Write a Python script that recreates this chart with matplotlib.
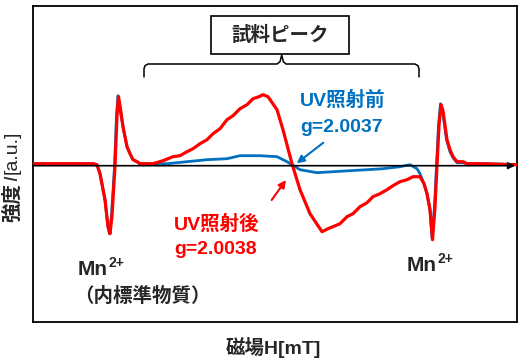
import matplotlib
matplotlib.use("Agg")
import matplotlib.pyplot as plt
from matplotlib.patches import Rectangle

plt.rcParams['font.family'] = ['Liberation Sans', 'Noto Sans CJK JP', 'DejaVu Sans']
CJK = ['Liberation Sans', 'Noto Sans CJK JP', 'DejaVu Sans']

# ---- data (field in arbitrary units, intensity in a.u.) ----
field_red = [0, 60, 64, 67, 72, 75, 77, 79, 82, 84, 85.5, 87, 90, 94, 97, 100, 104, 107, 120,
             130, 140, 147, 154, 160, 167, 174, 180, 187, 194, 200, 207, 214, 220, 226, 230, 235,
             244, 250, 259, 267, 277, 289,
             295, 300, 307, 314, 320, 327, 334, 340, 347, 354, 360, 367, 374, 380, 387, 391,
             394, 397, 399.5, 402, 404, 406,
             408, 410, 414, 417, 420, 424, 430, 434, 450, 484]
int_red = [2, 2, 1, -8, -34, -61, -68, -50, -1, 50, 69, 60, 39, 19, 12, 6, 4, 2, 2,
           5, 9, 10, 14, 17, 22, 26, 32, 37, 46, 50, 57, 61, 67, 69, 71, 69,
           56, 36, 2, -24, -48, -66,
           -63, -61, -58, -51, -48, -41, -37, -31, -28, -24, -20, -16, -14, -11, -11, -18,
           -28, -44, -74, -41, 0, 40,
           61, 55, 26, 16, 9, 4, 4, 2, 2, 1]

field_blue = [0, 60, 64, 67, 72, 75, 76.5, 78.5, 81.5, 83.5, 85, 86.5, 90, 94, 97, 100, 104, 107,
              134, 154, 174, 194, 207, 227, 244, 254, 259, 267, 284, 300, 317, 334,
              350, 367, 377, 384, 387, 391, 394, 397, 399, 401.5, 403.5, 405.5,
              407.5, 409.5, 413.5, 417, 420, 424, 430, 434, 450, 484]
int_blue = [2, 2, 1, -8, -34, -61, -68, -50, -1, 50, 70, 60, 39, 19, 12, 6, 4, 2,
            2, 4, 6, 7, 10, 10, 9, 4, 1, -4, -7, -6, -5, -4,
            -3, -1, 1, -3, -8, -18, -28, -44, -72, -41, 0, 40,
            62, 55, 26, 14, 8, 3, 3, 2, 2, 1]

blue_label = ["UV照射前", "g=2.0037"]
red_label = ["UV照射後", "g=2.0038"]
peak_label = "試料ピーク"
mn_label = ("Mn", "2+")
mn_note = "（内標準物質）"
xlabel = "磁場H[mT]"
ylabel_parts = ["強度", "I", "[a.u.]"]

RED = "#FF0000"
BLUE = "#0070C0"
DARK = "#262626"

fig = plt.figure(figsize=(5.23, 3.58), dpi=100)
ax = fig.add_axes([33 / 523, 36 / 358, 484 / 523, 316 / 358])
ax.set_xlim(0, 484)
ax.set_ylim(-156.3, 159.7)
ax.set_xticks([])
ax.set_yticks([])
for s in ax.spines.values():
    s.set_linewidth(1.3)
    s.set_color("black")

ax.plot(field_blue, int_blue, color=BLUE, lw=2.0, zorder=3, solid_joinstyle='round')
ax.plot(field_red, int_red, color=RED, lw=2.3, zorder=4, solid_joinstyle='round')

# zero axis arrow
ax.annotate("", xy=(482, 0), xytext=(0, 0),
            arrowprops=dict(arrowstyle='-|>', color='black', lw=1.2, mutation_scale=10,
                            shrinkA=0, shrinkB=0), zorder=6)

# bracket
bx = [111, 111, 112, 115, 244, 247, 248.7, 250.4, 253, 382, 385, 386, 386]
by = [89, 97, 100, 101.7, 101.7, 104, 110.7, 104, 101.7, 101.7, 100, 97, 89]
ax.plot(bx, by, color="black", lw=1.1, zorder=5)

# peak box
ax.add_patch(Rectangle((178, 111.7), 138, 38, fc="white", ec="black", lw=1.2, zorder=5))
ax.text(247, 130.5, peak_label, ha="center", va="center", fontsize=14,
        fontweight="bold", color=DARK, zorder=6, family=CJK)

# labels for spectra
ax.text(267, 65.5, blue_label[0], ha="left", va="center", fontsize=14,
        fontweight="bold", color=BLUE, family=CJK)
ax.text(267, 38.5, blue_label[1], ha="left", va="center", fontsize=14,
        fontweight="bold", color=BLUE, family=CJK)
ax.text(141, -58.5, red_label[0], ha="left", va="center", fontsize=14,
        fontweight="bold", color=RED, family=CJK)
ax.text(141, -84, red_label[1], ha="left", va="center", fontsize=14,
        fontweight="bold", color=RED, family=CJK)

ax.annotate("", xy=(263.7, 2.4), xytext=(290.3, 23),
            arrowprops=dict(arrowstyle='-|>', color=BLUE, lw=1.5, mutation_scale=11,
                            shrinkA=0, shrinkB=0), zorder=7)
ax.annotate("", xy=(253, -14.3), xytext=(238.7, -34.3),
            arrowprops=dict(arrowstyle='-|>', color=RED, lw=1.5, mutation_scale=11,
                            shrinkA=0, shrinkB=0), zorder=7)

fig.canvas.draw()
renderer = fig.canvas.get_renderer()


def mn_text(x, y):
    t = ax.text(x, y, mn_label[0], ha="left", va="center", fontsize=15,
                fontweight="bold", color=DARK, family=CJK)
    w = t.get_window_extent(renderer).width * 72 / fig.dpi
    ax.annotate(mn_label[1], xy=(x, y), xytext=(w + 0.1, 4.5), textcoords="offset points",
                ha="left", va="center", fontsize=10, fontweight="bold", color=DARK,
                family=CJK)


mn_text(45, -104)
mn_text(374, -100)
ax.text(41, -131, mn_note, ha="left", va="center", fontsize=14,
        fontweight="bold", color=DARK, family=CJK)

fig.text(273.5 / 523, 11 / 358, xlabel, ha="center", va="center", fontsize=14,
         fontweight="bold", color=DARK, family=CJK)

# y label pieces stacked upward
y0 = (358 - 222) / 358
x0 = 12.5 / 523
styles = [dict(fontweight="bold", family=CJK),
          dict(fontstyle="italic", fontweight="normal", family=["Liberation Sans"]),
          dict(fontweight="normal", family=CJK)]
cur = y0
for txt, st in zip(ylabel_parts, styles):
    t = fig.text(x0, cur, txt, rotation=90, ha="center", va="bottom", fontsize=14,
                 color=DARK, **st)
    h = t.get_window_extent(renderer).height / fig.bbox.height
    cur += h + 2 / 358

fig.savefig("out.png", dpi=100)
